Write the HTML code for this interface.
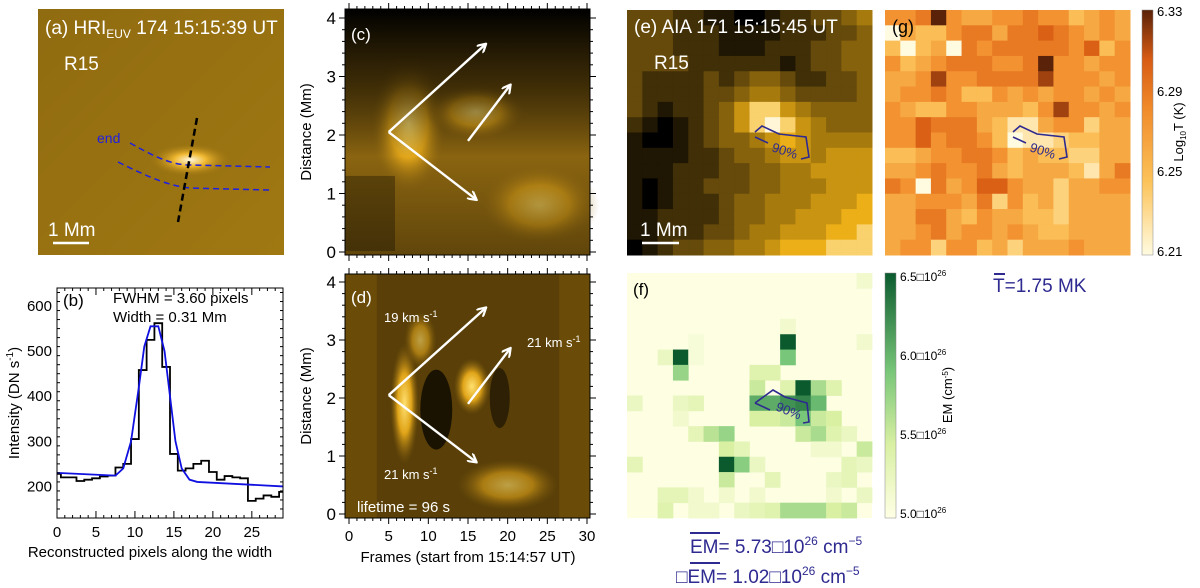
<!DOCTYPE html>
<html><head><meta charset="utf-8"><style>
body{margin:0;background:#fff;}
svg{display:block;font-family:"Liberation Sans",sans-serif;}
</style></head><body>
<svg id="fig" width="1200" height="588" viewBox="0 0 1200 588">
<defs>
<radialGradient id="ablob" cx="0.5" cy="0.5" r="0.5"><stop offset="0" stop-color="#fff8e0"/><stop offset="0.4" stop-color="#f0b830"/><stop offset="1" stop-color="#a67a12" stop-opacity="0"/></radialGradient>
<linearGradient id="ashade" x1="0" y1="0" x2="1" y2="1"><stop offset="0" stop-color="#6a4e0c" stop-opacity="0.3"/><stop offset="1" stop-color="#6a4e0c" stop-opacity="0"/></linearGradient>
<radialGradient id="cblob" cx="0.5" cy="0.5" r="0.5"><stop offset="0" stop-color="#ffe070"/><stop offset="0.5" stop-color="#e0a418"/><stop offset="1" stop-color="#8a6410" stop-opacity="0"/></radialGradient>
<linearGradient id="ctop" x1="0" y1="0" x2="0" y2="1"><stop offset="0" stop-color="#000"/><stop offset="0.3" stop-color="#1a1202" stop-opacity="0.7"/><stop offset="0.6" stop-color="#000" stop-opacity="0"/><stop offset="1" stop-color="#000" stop-opacity="0.3"/></linearGradient>
<linearGradient id="gbar" x1="0" y1="1" x2="0" y2="0"><stop offset="0" stop-color="#fffbe0"/><stop offset="0.3" stop-color="#fcc35a"/><stop offset="0.6" stop-color="#f08a2a"/><stop offset="0.8" stop-color="#d75b14"/><stop offset="1" stop-color="#5a2208"/></linearGradient>
<linearGradient id="fbar" x1="0" y1="1" x2="0" y2="0"><stop offset="0" stop-color="#ffffe5"/><stop offset="0.3" stop-color="#d9f0a3"/><stop offset="0.6" stop-color="#78c679"/><stop offset="1" stop-color="#0b5a2e"/></linearGradient>
<marker id="ah" markerWidth="10" markerHeight="10" refX="8" refY="5" orient="auto" markerUnits="userSpaceOnUse"><path d="M0,0 L9,5 L0,10" fill="none" stroke="#fff" stroke-width="2.2"/></marker>
</defs>
<g id="root"></g>
</svg>
<script>
// ---------- data ----------
const bPixels=[0,1,2,3,4,5,6,7,8,9,10,11,12,13,14,15,16,17,18,19,20,21,22,23,24,25,26,27,28,29];
const bIntensity=[228,220,220,212,215,218,222,224,242,250,305,458,525,562,465,272,235,240,250,257,232,215,223,220,218,168,173,180,177,188];
const fitX=[0,7.5,8.5,9.5,10.5,11.2,12,13,13.8,14.5,15.2,16,17,18,29];
const fitY=[230,224,240,300,420,510,555,555,500,400,300,240,215,210,200];
const bXTicks=[0,5,10,15,20,25];
const bYTicks=[200,300,400,500,600];
const tdXTicks=[0,5,10,15,20,25,30];
const tdYTicks=[0,1,2,3,4];
const arrowStart=[[5,2.05],[5,2.05],[15,1.9]];
const arrowEnd=[[17.2,3.55],[16,0.9],[20.3,2.85]];
const gRows=["5569544556553454","0433566466765454","3034065666665735","5345666556955455","4458556666855545","4556533545455454","5433554443585545","5576664311455244","5575665301123344","3345566534332244","4456556434443146","6506457754424455","4455546253424444","4466435443324444","4456455454334444","4552553424445444"];
const eRows=["3332211001223345","3332221111222334","3332221112223344","3333222222123344","3222232344322334","3222233455433334","3212234688654444","2101234689865444","1001234456765555","1111223445665666","1112223344556666","1012233344555666","1012223445556667","1122223445566677","1122233455666778","0123344556777888"];
const fCells=[[0,15,0.1],[3,10,0.1],[4,10,1],[4,4,0.05],[4,15,0.1],[5,2,0.15],[5,3,1],[5,4,0.05],[5,10,0.6],[6,3,0.5],[6,8,0.25],[6,9,0.25],[7,8,0.35],[7,10,0.25],[7,11,1],[7,12,0.45],[7,13,0.25],[8,0,0.15],[8,3,0.15],[8,4,0.2],[8,8,0.7],[8,9,0.7],[8,10,0.8],[8,11,0.85],[8,12,0.65],[9,3,0.1],[9,8,0.3],[9,9,0.3],[9,10,0.35],[9,11,0.6],[9,12,0.35],[9,13,0.3],[10,4,0.2],[10,5,0.4],[10,6,0.5],[10,11,0.35],[10,12,0.45],[10,13,0.25],[10,14,0.15],[11,6,0.3],[11,7,0.2],[11,12,0.1],[11,13,0.1],[11,15,0.35],[12,0,0.2],[12,6,1],[12,7,0.55],[12,8,0.15],[12,14,0.2],[12,15,0.15],[13,6,0.35],[13,9,0.2],[13,13,0.15],[13,14,0.2],[14,2,0.2],[14,3,0.2],[14,4,0.1],[14,6,0.1],[14,8,0.1],[14,13,0.1],[14,15,0.15],[15,2,0.25],[15,4,0.1],[15,5,0.1],[15,7,0.15],[15,8,0.2],[15,9,0.25],[15,10,0.45],[15,11,0.45],[15,12,0.45],[15,13,0.3],[15,14,0.35]];
const gBarTicks=[6.21,6.25,6.29,6.33];
const fBarTicks=[5.0,5.5,6.0,6.5];
// ---------- helpers ----------
const NS="http://www.w3.org/2000/svg";
const root=document.getElementById('root');
function mk(tag,attrs,parent,txt){const e=document.createElementNS(NS,tag);for(const k in attrs)e.setAttribute(k,attrs[k]);if(txt!==undefined)e.textContent=txt;(parent||root).appendChild(e);return e;}
function lerpHex(a,b,t){const pa=[1,3,5].map(i=>parseInt(a.substr(i,2),16)),pb=[1,3,5].map(i=>parseInt(b.substr(i,2),16));return 'rgb('+pa.map((v,i)=>Math.round(v+(pb[i]-v)*t)).join(',')+')';}
function cmap(stops,t){t=Math.max(0,Math.min(1,t));for(let i=1;i<stops.length;i++){if(t<=stops[i][0]){const s=stops[i-1],e=stops[i];return lerpHex(s[1],e[1],(t-s[0])/(e[0]-s[0]));}}return stops[stops.length-1][1];}
const goldMap=[[0,'#000000'],[0.15,'#2a1e04'],[0.35,'#6a4e0c'],[0.6,'#b4840e'],[0.8,'#f4b418'],[1,'#fff6d8']];
const tMap=[[0,'#fffbe0'],[0.3,'#fcc35a'],[0.6,'#f08a2a'],[0.8,'#d75b14'],[1,'#5a2208']];
const emMap=[[0,'#fdfee2'],[0.3,'#d9f0a3'],[0.6,'#78c679'],[1,'#0b5a2e']];
function lin(d0,d1,r0,r1){return v=>r0+(v-d0)*(r1-r0)/(d1-d0);}
function txt(x,y,s,size,attrs){return mk('text',Object.assign({x:x,y:y,'font-size':size},attrs||{}),null,s);}

// ---------- panel (a) ----------
const ga=mk('g',{});


mk('rect',{x:38,y:9,width:246,height:246,fill:'#a07812'},ga);
mk('rect',{x:38,y:9,width:246,height:246,fill:'url(#ashade)'},ga);
mk('ellipse',{cx:190,cy:160,rx:40,ry:16,fill:'url(#ablob)'},ga);
mk('path',{d:'M130,143 C160,160 175,165 190,165 L270,167',fill:'none',stroke:'#2020e0','stroke-width':1.5,'stroke-dasharray':'6,4'},ga);
mk('path',{d:'M118,162 C150,178 170,186 190,188 L270,190',fill:'none',stroke:'#2020e0','stroke-width':1.5,'stroke-dasharray':'6,4'},ga);
mk('line',{x1:197,y1:118,x2:178,y2:222,stroke:'#000','stroke-width':2.5,'stroke-dasharray':'7,4'},ga);
txt(97,143,'end',14,{fill:'#2020e0'});
const ta=txt(45,34,'(a) HRI',19,{fill:'#fff'});
mk('tspan',{'font-size':12,dy:4},ta,'EUV');mk('tspan',{dy:-4},ta,' 174  15:15:39 UT');
txt(64,70,'R15',19,{fill:'#fff'});
txt(48,236,'1 Mm',19,{fill:'#fff'});
mk('line',{x1:53,y1:243,x2:89,y2:243,stroke:'#fff','stroke-width':2.5},ga);

// ---------- panel (b) ----------
const bx=lin(0,29,57,283), by=lin(130,640,518,288);
const gb=mk('g',{});


let dH='';
bPixels.forEach((p,i)=>{const x0=bx(Math.max(0,p-0.5)),x1=bx(Math.min(29,p+0.5)),y=by(bIntensity[i]);dH+=(i===0?'M':'L')+x0+','+y+' L'+x1+','+y+' ';});
const hist=mk('path',{d:dH,fill:'none',stroke:'#000','stroke-width':1.8},gb);


const fit=mk('path',{d:fitX.map((x,i)=>(i?'L':'M')+bx(x)+','+by(fitY[i])).join(' '),fill:'none',stroke:'#1010e0','stroke-width':1.8},gb);


mk('rect',{x:57,y:288,width:226,height:230,fill:'none',stroke:'#000','stroke-width':1},gb);
for(let v=0;v<=29;v++){mk('line',{x1:bx(v),y1:518,x2:bx(v),y2:v%5?515:511,stroke:'#000'},gb);mk('line',{x1:bx(v),y1:288,x2:bx(v),y2:v%5?291:295,stroke:'#000'},gb);}
for(let v=150;v<=640;v+=20){mk('line',{x1:57,y1:by(v),x2:v%100?60:64,y2:by(v),stroke:'#000'},gb);mk('line',{x1:283,y1:by(v),x2:v%100?280:276,y2:by(v),stroke:'#000'},gb);}
bXTicks.forEach(v=>{const t=txt(bx(v),537,String(v),15,{'text-anchor':'middle'});});
bYTicks.forEach(v=>{const t=txt(52,by(v)+5,String(v),15,{'text-anchor':'end'});});
txt(150,557,'Reconstructed pixels along the width',15,{'text-anchor':'middle'});
const byl=txt(0,0,'Intensity (DN s',15,{'text-anchor':'middle',transform:'translate(19,403) rotate(-90)'});
mk('tspan',{'font-size':10,dy:-6},byl,'-1');mk('tspan',{dy:6},byl,')');
txt(63,306,'(b)',17);
txt(113,303,'FWHM =  3.60 pixels',15);
txt(113,322,'Width = 0.31 Mm',15);

// ---------- panels (c) (d) ----------
function tdPanel(name,top,bot,y0,y4,isD){
  const x=lin(0,30,349,587), y=lin(0,4,y0,y4);
  const g=mk('g',{});
  
  
  if(!isD){
    mk('rect',{x:345,y:top,width:245,height:bot-top,fill:'#8a6410'},g);
    mk('ellipse',{cx:x(7.5),cy:y(2.2),rx:38,ry:70,fill:'url(#cblob)'},g);
    mk('ellipse',{cx:x(16),cy:y(2.4),rx:50,ry:28,fill:'url(#cblob)'},g);
    mk('ellipse',{cx:x(24),cy:y(0.8),rx:60,ry:40,fill:'url(#cblob)',opacity:0.6},g);
    mk('rect',{x:345,y:top,width:245,height:bot-top,fill:'url(#ctop)'},g);
    mk('rect',{x:345,y:y(1.3),width:50,height:75,fill:'#000',opacity:0.3},g);
  }else{
    mk('rect',{x:345,y:top,width:245,height:bot-top,fill:'#6a4c08'},g);
    mk('rect',{x:x(3.5),y:top,width:x(26.5)-x(3.5),height:bot-top,fill:'#5a4008'},g);
    mk('ellipse',{cx:x(7),cy:y(1.9),rx:14,ry:60,fill:'url(#cblob)'},g);
    mk('ellipse',{cx:x(11),cy:y(1.8),rx:16,ry:40,fill:'#000',opacity:0.7},g);
    mk('ellipse',{cx:x(15.5),cy:y(2.2),rx:18,ry:28,fill:'url(#cblob)'},g);
    mk('ellipse',{cx:x(19),cy:y(2.0),rx:10,ry:30,fill:'#000',opacity:0.5},g);
    mk('ellipse',{cx:x(20),cy:y(0.5),rx:50,ry:25,fill:'url(#cblob)',opacity:0.6},g);
    mk('ellipse',{cx:x(9),cy:y(3.0),rx:16,ry:28,fill:'url(#cblob)',opacity:0.6},g);
  }
  arrowStart.forEach((s,i)=>{const a=mk('line',{x1:x(s[0]),y1:y(s[1]),x2:x(arrowEnd[i][0]),y2:y(arrowEnd[i][1]),stroke:'#fff','stroke-width':2.4,'marker-end':'url(#ah)'},g);});
  mk('rect',{x:345,y:top,width:245,height:bot-top,fill:'none',stroke:'#000'},g);
  for(let v=0;v<=30;v++){mk('line',{x1:x(v),y1:bot,x2:x(v),y2:bot+(v%5?3:6),stroke:'#000'},g);mk('line',{x1:x(v),y1:top,x2:x(v),y2:top-(v%5?3:6),stroke:'#000'},g);}
  for(let v=0;v<=4.1;v+=0.2){const yy=y(v),maj=Math.abs(v-Math.round(v))<0.01;if(yy<top||yy>bot)continue;mk('line',{x1:345,y1:yy,x2:345-(maj?6:3),y2:yy,stroke:'#000'},g);mk('line',{x1:590,y1:yy,x2:590+(maj?6:3),y2:yy,stroke:'#000'},g);}
  tdYTicks.forEach(v=>{const t=txt(336,y(v)+6,String(v),17,{'text-anchor':'end'});});
  txt(0,0,'Distance (Mm)',15,{'text-anchor':'middle',transform:'translate(311,'+((top+bot)/2)+') rotate(-90)'});
  return {x,y};
}
tdPanel('panel-c-time-distance',9,255,252,18,false);
txt(351,40,'(c)',17,{fill:'#fff'});
const dd=tdPanel('panel-d-time-distance',274,518,514,282,true);
txt(351,303,'(d)',17,{fill:'#fff'});
tdXTicks.forEach(v=>{const t=txt(dd.x(v),541,String(v),15,{'text-anchor':'middle'});});
txt(468,562,'Frames (start from 15:14:57 UT)',15,{'text-anchor':'middle'});
[[384,322,'19'],[527,347,'21'],[384,479,'21']].forEach(a=>{const t=txt(a[0],a[1],a[2]+' km s',13,{fill:'#fff'});mk('tspan',{'font-size':9,dy:-5},t,'-1');});
txt(357,512,'lifetime =  96 s',15,{fill:'#fff'});

// ---------- heatmaps e, g ----------
function grid(name,x0,y0,w,rows,map){
  const g=mk('g',{});
  
  
  const cs=w/16;
  rows.forEach((r,ri)=>{for(let ci=0;ci<16;ci++){mk('rect',{x:x0+ci*cs,y:y0+ri*cs,width:cs+0.5,height:cs+0.5,fill:cmap(map,+r[ci]/9)},g);}});
  return g;
}
grid('panel-e-aia-image',627,10,245,eRows,goldMap);
grid('panel-g-temperature-map',885,10,245,gRows,tMap);
txt(634,33,'(e) AIA 171  15:15:45 UT',19,{fill:'#fff'});
txt(654,69,'R15',19,{fill:'#fff'});
txt(640,236,'1 Mm',19,{fill:'#fff'});
mk('line',{x1:642,y1:243,x2:679,y2:243,stroke:'#fff','stroke-width':2.5});
txt(892,33,'(g)',18,{fill:'#000'});
function contour(dx,dy,lx,ly,rot){
  const c=mk('path',{d:`M${755+dx},${132+dy} L${762+dx},${126+dy} L${779+dx},${134+dy} L${806+dx},${137+dy} L${809+dx},${157+dy} L${801+dx},${159+dy} M${768+dx},${143+dy} L${755+dx},${137+dy} Z`,fill:'none',stroke:'#2e2a90','stroke-width':1.6});
  
  
  txt(lx,ly,'90%',13,{fill:'#2e2a90',transform:`rotate(${rot} ${lx} ${ly})`});
}
contour(0,0,771,151,18);
contour(258,0,1029,151,18);
mk('rect',{x:1142,y:10,width:11,height:245,fill:'url(#gbar)',stroke:'#888','stroke-width':0.5});
const gcb=lin(6.21,6.33,252,12);
gBarTicks.forEach(v=>{const t=txt(1157,gcb(v)+4,v.toFixed(2),13);});
const gl=txt(0,0,'Log',13,{'text-anchor':'middle',transform:'translate(1183,132) rotate(-90)'});
mk('tspan',{'font-size':8,dy:3},gl,'10');mk('tspan',{dy:-3},gl,'T (K)');
txt(993,292,'T=1.75 MK',19,{fill:'#2e2a90'});
mk('line',{x1:994,y1:274,x2:1005,y2:274,stroke:'#2e2a90','stroke-width':2});

// ---------- panel f ----------
const gf=mk('g',{});


const fcs=245/16;
mk('rect',{x:627,y:273,width:245,height:245,fill:'#fdfee2'},gf);
fCells.forEach(c=>{const r=mk('rect',{x:627+c[1]*fcs,y:273+c[0]*fcs,width:fcs+0.4,height:fcs+0.4,fill:cmap(emMap,c[2])},gf);});
txt(633,295,'(f)',17);
mk('path',{d:'M755,403 L773,390 L785,397 L807,403 L809,422 L803,423 M770,410 L755,403',fill:'none',stroke:'#2e2a90','stroke-width':1.6});
txt(775,410,'90%',13,{fill:'#2e2a90',transform:'rotate(22 775 410)'});
mk('rect',{x:885,y:273,width:11,height:245,fill:'url(#fbar)',stroke:'#888','stroke-width':0.5});
const fcb=lin(5.0,6.5,514,277);
fBarTicks.forEach(v=>{const t=txt(900,fcb(v)+4,v.toFixed(1)+'\u25A110',12);mk('tspan',{'font-size':8,dy:-5},t,'26');});
const fl=txt(0,0,'EM (cm',13,{'text-anchor':'middle',transform:'translate(952,395) rotate(-90)'});
mk('tspan',{'font-size':8,dy:-4},fl,'-5');mk('tspan',{dy:4},fl,')');
const e1=txt(690,553,'EM= 5.73\u25A110',19,{fill:'#2e2a90'});mk('tspan',{'font-size':12,dy:-8},e1,'26');mk('tspan',{dy:8},e1,' cm');mk('tspan',{'font-size':12,dy:-8},e1,'−5');
mk('line',{x1:690,y1:533,x2:720,y2:533,stroke:'#2e2a90','stroke-width':2});
const e2=txt(676,583,'\u25A1EM= 1.02\u25A110',19,{fill:'#2e2a90'});mk('tspan',{'font-size':12,dy:-8},e2,'26');mk('tspan',{dy:8},e2,' cm');mk('tspan',{'font-size':12,dy:-8},e2,'−5');
mk('line',{x1:690,y1:563,x2:720,y2:563,stroke:'#2e2a90','stroke-width':2});
</script>
</body></html>
